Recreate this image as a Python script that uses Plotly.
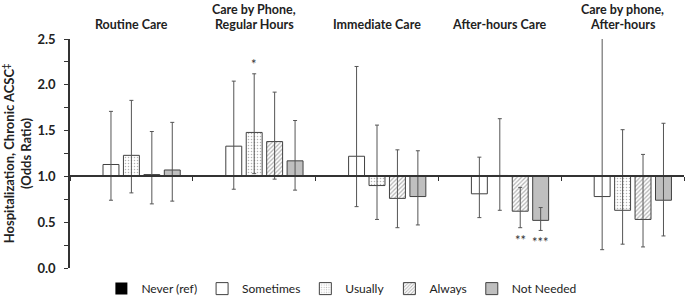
import plotly.graph_objects as go

groups = ["Routine Care", "Care by Phone,<br>Regular Hours", "Immediate Care",
          "After-hours Care", "Care by phone,<br>After-hours"]
series = ["Never (ref)", "Sometimes", "Usually", "Always", "Not Needed"]

# odds ratios, per series, per group
odds = {
    "Never (ref)": [1.0, 1.0, 1.0, 1.0, 1.0],
    "Sometimes":   [1.13, 1.33, 1.22, 0.81, 0.78],
    "Usually":     [1.23, 1.48, 0.90, 1.01, 0.63],
    "Always":      [1.02, 1.38, 0.76, 0.62, 0.53],
    "Not Needed":  [1.07, 1.17, 0.78, 0.52, 0.74],
}
ci_upper = {
    "Never (ref)": [1.0, 1.0, 1.0, 1.0, 1.0],
    "Sometimes":   [1.71, 2.04, 2.20, 1.21, 2.60],
    "Usually":     [1.83, 2.12, 1.56, 1.63, 1.51],
    "Always":      [1.49, 1.92, 1.29, 0.88, 1.24],
    "Not Needed":  [1.59, 1.61, 1.28, 0.66, 1.58],
}
ci_lower = {
    "Never (ref)": [1.0, 1.0, 1.0, 1.0, 1.0],
    "Sometimes":   [0.74, 0.86, 0.67, 0.55, 0.20],
    "Usually":     [0.82, 1.03, 0.53, 0.63, 0.26],
    "Always":      [0.70, 0.97, 0.44, 0.44, 0.23],
    "Not Needed":  [0.73, 0.85, 0.47, 0.41, 0.35],
}
# significance marks: (series, group index, label, placement)
sig_marks = [("Usually", 1, "*", "above"), ("Always", 3, "**", "below"),
             ("Not Needed", 3, "***", "below")]

reference = 1.0
y_ticks = [0.0, 0.5, 1.0, 1.5, 2.0, 2.5]

styles = {
    "Never (ref)": dict(color="black", line=dict(color="black", width=0)),
    "Sometimes": dict(color="white", line=dict(color="#404040", width=1)),
    "Usually": dict(color="white", line=dict(color="#404040", width=1),
                    pattern=dict(shape=".", fgcolor="#666666", size=3, solidity=0.2)),
    "Always": dict(color="white", line=dict(color="#404040", width=1),
                   pattern=dict(shape="/", fgcolor="#666666", size=3, solidity=0.4)),
    "Not Needed": dict(color="#bfbfbf", line=dict(color="#404040", width=1)),
}

FONT = "Lato, Carlito, 'Open Sans', sans-serif"
fig = go.Figure()
for s in series:
    vals = odds[s]
    fig.add_trace(go.Bar(
        name=s, x=groups, y=[v - reference for v in vals], base=reference,
        marker=styles[s],
        error_y=dict(type="data", symmetric=False,
                     array=[u - v for u, v in zip(ci_upper[s], vals)],
                     arrayminus=[v - l for v, l in zip(vals, ci_lower[s])],
                     color="#555555", thickness=1, width=2,
                     visible=(s != "Never (ref)")),
    ))

bargap = 0.168
n = len(series)
slot = (1 - bargap) / n
annotations = []
for s, gi, lab, where in sig_marks:
    k = series.index(s)
    xpos = gi - (1 - bargap) / 2 + (k + 0.5) * slot
    if where == "above":
        annotations.append(dict(x=xpos, y=ci_upper[s][gi], xref="x", yref="y",
                                text=lab, showarrow=False, yanchor="bottom", yshift=0,
                                font=dict(size=13, color="#333")))
    else:
        annotations.append(dict(x=xpos, y=ci_lower[s][gi], xref="x", yref="y",
                                text=lab, showarrow=False, yanchor="top", yshift=-2,
                                font=dict(size=13, color="#333")))
# group titles above the plot, one annotation per text line
for g in groups:
    lines = g.split("<br>")
    for j, line in enumerate(reversed(lines)):
        annotations.append(dict(x=g, y=1, xref="x", yref="paper", text=line,
                                showarrow=False, yanchor="middle", yshift=15 + 15 * j,
                                font=dict(size=12.5, color="#222", weight="bold")))

fig.update_layout(
    width=685, height=297, autosize=False,
    margin=dict(l=70, r=1, t=39, b=29, autoexpand=False),
    paper_bgcolor="white", plot_bgcolor="white",
    barmode="group", bargap=bargap, bargroupgap=0.22,
    font=dict(family=FONT, color="#222"),
    showlegend=True,
    legend=dict(orientation="h", x=0.442, xanchor="center", y=-0.09, yanchor="middle",
                font=dict(size=12), itemwidth=30, tracegroupgap=0,
                traceorder="normal"),
    annotations=annotations,
    xaxis=dict(type="category", anchor="free", position=(reference - 0) / 2.5,
               showline=True, linecolor="#333", linewidth=1.5,
               ticks="outside", tickson="boundaries", ticklen=4, tickcolor="#333",
               showticklabels=False, showgrid=False, zeroline=False,
               range=[-0.5, 4.5], automargin=False),
    yaxis=dict(range=[0, 2.5], tickvals=y_ticks, tickformat=".1f",
               ticks="outside", ticklen=4, tickcolor="#333",
               showline=True, linecolor="#333", linewidth=1.5,
               showgrid=False, zeroline=False, ticklabelstandoff=6, automargin=False,
               minor=dict(dtick=0.25, ticks="outside", ticklen=4, tickcolor="#333"),
               tickfont=dict(size=13, color="#222", family=FONT, weight="bold"),
               title=dict(text="Hospitalization, Chronic ACSC<sup>‡</sup><br>(Odds Ratio)",
                          font=dict(size=13, color="#222", weight="bold"), standoff=4)),
)
fig.write_html("out.html", config={"displayModeBar": False},
               post_script="document.body.style.margin='0';document.body.style.overflow='hidden';")
